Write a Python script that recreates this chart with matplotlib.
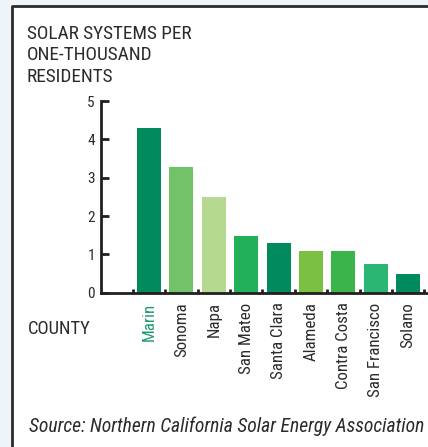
import matplotlib
matplotlib.use("Agg")
import matplotlib.pyplot as plt
from matplotlib.ticker import FixedLocator, NullFormatter
from matplotlib import font_manager

# data
counties = ["Marin", "Sonoma", "Napa", "San Mateo", "Santa Clara",
            "Alameda", "Contra Costa", "San Francisco", "Solano"]
per_thousand = [4.30, 3.28, 2.50, 1.48, 1.30, 1.09, 1.09, 0.76, 0.50]
bar_colors = ["#008a5e", "#72c26a", "#b5d98e", "#22b05a", "#008a5e",
              "#7bc043", "#3bb54a", "#2bb673", "#008a5e"]
y_ticks = [0, 1, 2, 3, 4, 5]
title_lines = ["SOLAR SYSTEMS PER", "ONE-THOUSAND", "RESIDENTS"]
source = "Source: Northern California Solar Energy Association"

# condensed face, close to the Univers Condensed of the original
names = {f.name for f in font_manager.fontManager.ttflist}
face = "Roboto"
for cand in ["Roboto Condensed", "Archivo Narrow", "Barlow Condensed", "Asap Condensed"]:
    if cand in names:
        face = cand
        break
plt.rcParams["font.family"] = [face, "DejaVu Sans"]

W, H = 428, 447
ink = "#2b2b2b"
fig = plt.figure(figsize=(W / 100, H / 100), dpi=100, facecolor="#eef4f8")

# background panel: white box framed on the left and top
bg = fig.add_axes([0, 0, 1, 1])
bg.set_xlim(0, W)
bg.set_ylim(H, 0)
bg.axis("off")
bg.fill_between([12, W + 2], 6, H + 2, color="white", lw=0)
bg.plot([12, 12, W + 2], [H + 2, 6, 6], color=ink, lw=2, solid_capstyle="projecting")

ax = fig.add_axes([100.5 / W, 154.3 / H, (W - 100.5) / W, 191.7 / H])
ax.set_facecolor("none")
x = list(range(1, len(counties) + 1))
ax.bar(x, per_thousand, width=0.74, color=bar_colors, zorder=2)

ax.set_xlim(-0.5, 9.61)
ax.set_ylim(0, 5)
for s in ["top", "right"]:
    ax.spines[s].set_visible(False)
for s in ["left", "bottom"]:
    ax.spines[s].set_color("#231f20")
    ax.spines[s].set_linewidth(2)
    ax.spines[s].set_zorder(3)

ax.set_yticks(y_ticks)
ax.tick_params(axis="y", direction="in", length=6, width=2, color="#231f20",
               labelsize=11, labelcolor=ink, pad=4)

ax.xaxis.set_minor_locator(FixedLocator([i + 0.5 for i in range(len(counties) + 1)]))
ax.xaxis.set_minor_formatter(NullFormatter())
ax.set_xticks(x)
ax.set_xticklabels(counties, rotation=90, va="top", ha="center")
ax.tick_params(axis="x", which="major", length=0, labelsize=11,
               labelcolor=ink, pad=7)
ax.tick_params(axis="x", which="minor", direction="in", length=3, width=2,
               color="#231f20")

titles = [fig.text(27 / W, 1 - (39 + i * 21.5) / H, line, fontsize=13,
                   color=ink, va="baseline") for i, line in enumerate(title_lines)]
county_txt = fig.text(28 / W, 1 - 334 / H, "COUNTY", fontsize=13, color=ink,
                      va="baseline")
src_txt = fig.text(29 / W, 1 - 432 / H, source, fontsize=12, style="italic",
                   color=ink, va="baseline")


# scale font sizes so text widths match the reference
renderer = fig.canvas.get_renderer()


def fit_size(t, target_px, vertical=False):
    bb = t.get_window_extent(renderer)
    span = bb.height if vertical else bb.width
    return t.get_fontsize() * target_px / span


title_size = fit_size(titles[0], 164)
for t in titles:
    t.set_fontsize(title_size)
county_txt.set_fontsize(fit_size(county_txt, 63))
src_txt.set_fontsize(fit_size(src_txt, 394))

labels = ax.get_xticklabels()
lab_size = fit_size(labels[7], 94, vertical=True)
for lab in labels:
    lab.set_fontsize(lab_size)
labels[0].set_color("#1e9a6c")

fig.savefig("out.png", dpi=100, facecolor=fig.get_facecolor())
